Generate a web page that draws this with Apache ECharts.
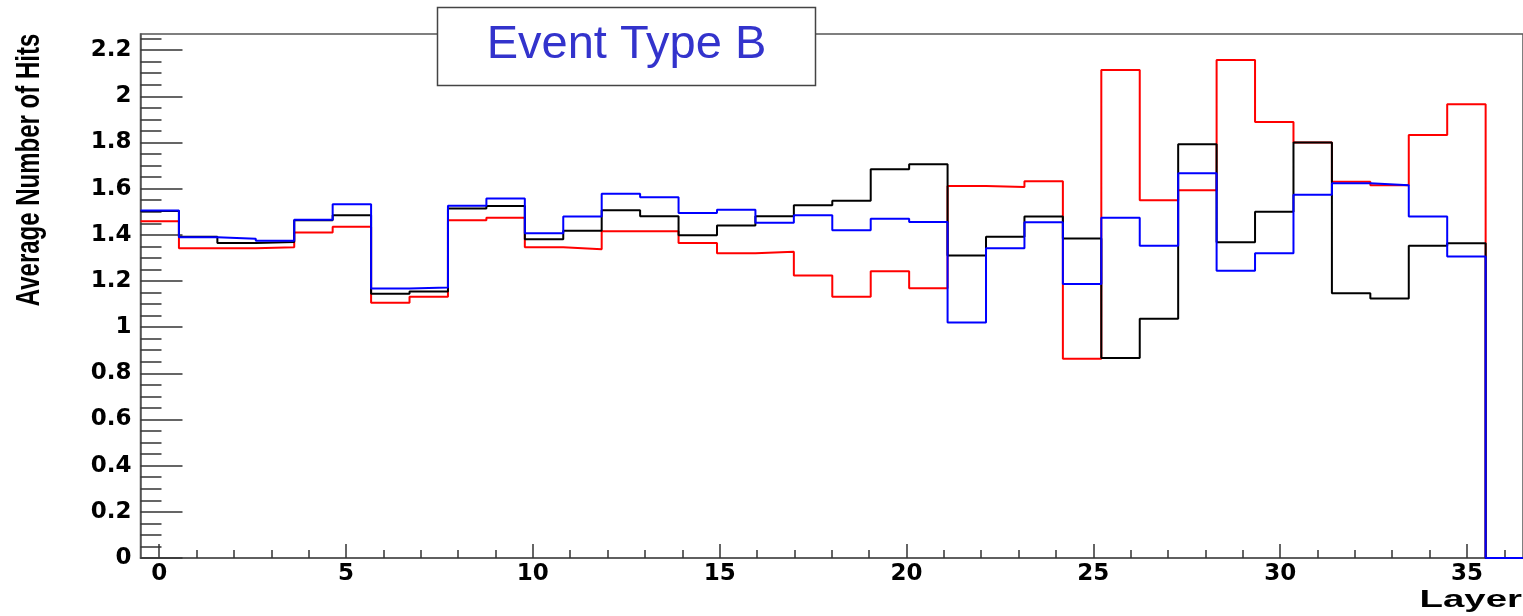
<!DOCTYPE html>
<html>
<head>
<meta charset="UTF-8">
<title>Event Type B</title>
<script src="https://cdn.jsdelivr.net/npm/echarts@6/dist/echarts.min.js"></script>
<style>
    html, body { margin: 0; padding: 0; background: #fff; }
    #main { width: 1523px; height: 616px; }
</style>
</head>
<body>
<div id="main"></div>
<script>
// histogram: 35 bins from -0.5 to 35.5
var nBins = 35, xLow = -0.5, xHigh = 35.5;
var xMin = -0.5, xMax = 36.5, yMax = 2.27;

var xMajorTicks = [0, 5, 10, 15, 20, 25, 30, 35];
var yMajorTicks = [0, 0.2, 0.4, 0.6, 0.8, 1, 1.2, 1.4, 1.6, 1.8, 2, 2.2];

var redHits = [1.459, 1.342, 1.342, 1.346, 1.410, 1.435, 1.106, 1.132, 1.463, 1.474,
    1.346, 1.338, 1.416, 1.416, 1.365, 1.320, 1.327, 1.224, 1.132, 1.242,
    1.169, 1.612, 1.607, 1.632, 0.863, 2.114, 1.550, 1.593, 2.157, 1.889,
    1.800, 1.630, 1.615, 1.832, 1.966];
var blackHits = [1.503, 1.392, 1.365, 1.369, 1.463, 1.485, 1.145, 1.154, 1.514, 1.525,
    1.381, 1.418, 1.506, 1.481, 1.398, 1.440, 1.481, 1.528, 1.548, 1.684,
    1.706, 1.310, 1.392, 1.479, 1.384, 0.866, 1.036, 1.792, 1.368, 1.500,
    1.800, 1.147, 1.124, 1.353, 1.364];
var blueHits = [1.505, 1.390, 1.383, 1.374, 1.465, 1.532, 1.168, 1.172, 1.526, 1.557,
    1.407, 1.479, 1.578, 1.563, 1.495, 1.509, 1.452, 1.485, 1.420, 1.470,
    1.456, 1.020, 1.342, 1.455, 1.187, 1.474, 1.353, 1.667, 1.244, 1.320,
    1.574, 1.623, 1.615, 1.479, 1.306];

var binW = (xHigh - xLow) / nBins;

function histPoints(vals) {
    var pts = vals.map(function (v, i) { return [xLow + i * binW, v]; });
    pts.push([xHigh, 0]);
    pts.push([xMax, 0]);
    return pts;
}

var xMinorTicks = [];
for (var i = 0; i <= 36; i++) if (i % 5 !== 0) xMinorTicks.push(i);
var yMinorTicks = [];
for (var k = 1; k <= 45; k++) if (k % 4 !== 0) yMinorTicks.push(+(k * 0.05).toFixed(2));

var labelFont = { fontFamily: 'DejaVu Sans', fontWeight: 'bold', fontSize: 23, color: '#000' };

function histSeries(name, vals, color) {
    return {
        name: name, type: 'line', step: 'end', data: histPoints(vals),
        showSymbol: false, symbol: 'none', silent: true,
        lineStyle: { color: color, width: 2 }, clip: true
    };
}

var chart = echarts.init(document.getElementById('main'));
chart.setOption({
    animation: false,
    backgroundColor: '#fff',
    grid: { left: 140.5, top: 34, width: 1384, height: 524, show: true, borderColor: '#555', borderWidth: 1.5 },
    xAxis: [{
        type: 'value', min: xMin, max: xMax,
        axisLine: { onZero: false, lineStyle: { color: '#555', width: 1.5 } },
        axisTick: { inside: true, length: 14, customValues: xMajorTicks, lineStyle: { color: '#333', width: 1.5 } },
        axisLabel: Object.assign({ customValues: xMajorTicks, margin: 5 }, labelFont),
        splitLine: { show: false }
    }, {
        type: 'value', min: xMin, max: xMax, position: 'bottom',
        axisLine: { show: false, onZero: false },
        axisTick: { inside: true, length: 8, customValues: xMinorTicks, lineStyle: { color: '#333', width: 1.5 } },
        axisLabel: { show: false },
        splitLine: { show: false }
    }],
    yAxis: [{
        type: 'value', min: 0, max: yMax,
        axisLine: { show: true, onZero: false, lineStyle: { color: '#555', width: 1.5 } },
        axisTick: { show: true, inside: true, length: 42, customValues: yMajorTicks, lineStyle: { color: '#333', width: 1.5 } },
        axisLabel: Object.assign({ customValues: yMajorTicks, margin: 9 }, labelFont),
        splitLine: { show: false }
    }, {
        type: 'value', min: 0, max: yMax, position: 'left',
        axisLine: { show: false, onZero: false },
        axisTick: { show: true, inside: true, length: 21, customValues: yMinorTicks, lineStyle: { color: '#333', width: 1.5 } },
        axisLabel: { show: false },
        splitLine: { show: false }
    }],
    series: [
        histSeries('red', redHits, '#ff0000'),
        histSeries('black', blackHits, '#000000'),
        histSeries('blue', blueHits, '#0000ff')
    ],
    graphic: [
        {
            type: 'text', x: 30, y: 170, rotation: Math.PI / 2, scaleY: 1.35,
            style: { text: 'Average Number of Hits', fill: '#000', font: 'bold 24px "Liberation Sans", Arial, sans-serif',
                     align: 'center', verticalAlign: 'middle' }
        },
        {
            type: 'text', x: 1522, y: 600, scaleX: 1.6,
            style: { text: 'Layer', fill: '#000', font: 'bold 24px "Liberation Sans", Arial, sans-serif',
                     align: 'right', verticalAlign: 'middle' }
        },
        {
            type: 'rect', z: 100,
            shape: { x: 437.5, y: 7.5, width: 378, height: 78 },
            style: { fill: '#fff', stroke: '#444', lineWidth: 1.5 }
        },
        {
            type: 'text', z: 101, x: 626.5, y: 45,
            style: { text: 'Event Type B', fill: '#3333cc', font: '47px "Liberation Sans", Arial, sans-serif',
                     align: 'center', verticalAlign: 'middle' }
        }
    ]
});
</script>
</body>
</html>
